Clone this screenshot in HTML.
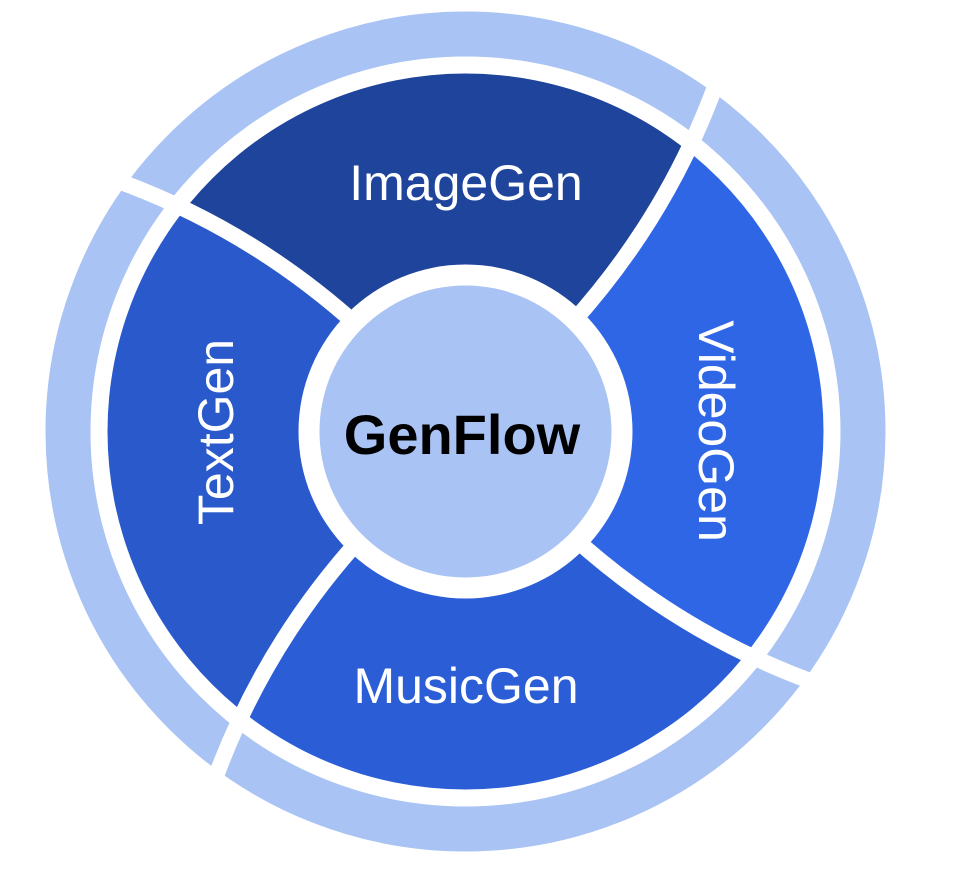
<!DOCTYPE html>
<html><head><meta charset="utf-8"><style>
html,body{margin:0;padding:0;background:#fff;width:954px;height:876px;overflow:hidden;}
svg{display:block;}
text{font-family:"Liberation Sans",sans-serif;}
</style></head><body>
<svg width="954" height="876" viewBox="0 0 954 876" xmlns="http://www.w3.org/2000/svg">
<defs>
<clipPath id="disk"><circle cx="0" cy="0" r="358"/></clipPath>
<path id="wedge" d="M0 0 L-107 -105 Q-218.5 -206 -360 -255 L-420 -700 L420 -700 L255 -360 Q206 -218.5 105 -107 Z"/>
<path id="sep" d="M-95 -93 L-107 -105 Q-218.5 -206 -360 -255 L-380 -262" fill="none" stroke="#fff" stroke-width="16"/>
</defs>
<g transform="translate(465.5,431.5)">
<circle r="397.5" fill="none" stroke="#a9c3f4" stroke-width="45"/>
<g clip-path="url(#disk)">
<use href="#wedge" fill="#1f449c"/>
<use href="#wedge" fill="#2f66e5" transform="rotate(90)"/>
<use href="#wedge" fill="#2b5dd6" transform="rotate(180)"/>
<use href="#wedge" fill="#2959cb" transform="rotate(270)"/>
</g>
<use href="#sep"/>
<use href="#sep" transform="rotate(90)"/>
<use href="#sep" transform="rotate(180)"/>
<use href="#sep" transform="rotate(270)"/>
<circle r="167" fill="#fff"/>
<circle r="146" fill="#a9c3f4"/>
</g>
<text x="466" y="200" font-size="50" fill="#fff" text-anchor="middle">ImageGen</text>
<text x="466" y="703" font-size="50" fill="#fff" text-anchor="middle">MusicGen</text>
<text transform="translate(699,431) rotate(90)" x="0" y="0" font-size="50" fill="#fff" text-anchor="middle">VideoGen</text>
<text transform="translate(233,432) rotate(-90)" x="0" y="0" font-size="50" fill="#fff" text-anchor="middle">TextGen</text>
<text x="462" y="454" font-size="56" font-weight="bold" fill="#000" text-anchor="middle">GenFlow</text>
</svg>
</body></html>
